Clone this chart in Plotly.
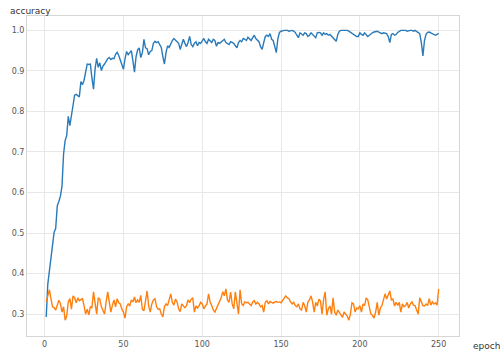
import plotly.graph_objects as go

# Training curves: accuracy per epoch for two runs
epochs = list(range(1, 251))

acc_blue = [
    0.293, 0.374, 0.406, 0.438, 0.470, 0.502, 0.511, 0.567, 0.578, 0.591,
    0.615, 0.695, 0.728, 0.741, 0.788, 0.765, 0.790, 0.815, 0.840, 0.842,
    0.838, 0.836, 0.874, 0.866, 0.877, 0.895, 0.917, 0.916, 0.917, 0.882,
    0.855, 0.905, 0.931, 0.909, 0.920, 0.901, 0.912, 0.917, 0.925, 0.930,
    0.933, 0.928, 0.931, 0.930, 0.941, 0.946, 0.938, 0.925, 0.912, 0.904,
    0.930, 0.948, 0.940, 0.945, 0.950, 0.925, 0.897, 0.935, 0.952, 0.957,
    0.933, 0.945, 0.978, 0.957, 0.955, 0.940, 0.948, 0.950, 0.968, 0.973,
    0.970, 0.972, 0.963, 0.958, 0.935, 0.917, 0.945, 0.962, 0.958, 0.968,
    0.975, 0.980, 0.975, 0.970, 0.968, 0.953, 0.965, 0.978, 0.968, 0.960,
    0.970, 0.985, 0.965, 0.960, 0.968, 0.972, 0.962, 0.970, 0.968, 0.975,
    0.980, 0.972, 0.968, 0.978, 0.975, 0.970, 0.978, 0.975, 0.961, 0.970,
    0.968, 0.972, 0.975, 0.978, 0.970, 0.968, 0.965, 0.972, 0.970, 0.968,
    0.962, 0.957, 0.970, 0.975, 0.972, 0.980, 0.978, 0.975, 0.983, 0.978,
    0.975, 0.982, 0.988, 0.980, 0.975, 0.972, 0.960, 0.953, 0.970, 0.985,
    0.988, 0.985, 0.992, 0.978, 0.975, 0.962, 0.945, 0.980, 0.995, 0.998,
    1.000, 1.000, 1.000, 1.000, 0.998, 1.000, 1.000, 0.998, 0.995, 0.988,
    0.982, 0.994, 0.992, 0.988, 0.994, 0.992, 0.985, 0.988, 0.994, 0.990,
    0.985, 0.982, 0.994, 0.995, 0.994, 0.988, 0.994, 0.990, 0.992, 0.988,
    0.990, 0.985, 0.982, 0.978, 0.973, 0.990, 0.998, 1.000, 1.000, 1.000,
    1.000, 1.000, 0.998, 0.995, 0.994, 0.990, 0.988, 0.985, 0.985, 0.994,
    0.990, 0.988, 0.994, 0.990, 0.985, 0.988, 0.992, 0.994, 0.996, 0.998,
    0.998, 0.996, 0.994, 0.992, 0.994, 0.993, 0.992, 0.985, 0.970, 0.990,
    0.992, 0.988, 0.990, 0.995, 0.998, 1.000, 1.000, 1.000, 1.000, 0.998,
    1.000, 1.000, 1.000, 0.998, 1.000, 0.998, 0.996, 0.992, 0.970, 0.937,
    0.975, 0.990, 0.995, 0.996, 0.994, 0.992, 0.990, 0.988, 0.990, 0.993,
]

acc_orange = [
    0.330, 0.345, 0.360, 0.338, 0.318, 0.316, 0.310, 0.322, 0.334, 0.326,
    0.305, 0.318, 0.285, 0.295, 0.330, 0.338, 0.312, 0.345, 0.340, 0.328,
    0.340, 0.333, 0.336, 0.338, 0.320, 0.300, 0.312, 0.298, 0.318, 0.316,
    0.355, 0.320, 0.300, 0.340, 0.337, 0.318, 0.310, 0.300, 0.330, 0.355,
    0.330, 0.305, 0.322, 0.335, 0.318, 0.338, 0.328, 0.325, 0.312, 0.305,
    0.290, 0.318, 0.325, 0.320, 0.335, 0.330, 0.342, 0.328, 0.335, 0.329,
    0.346, 0.312, 0.308, 0.332, 0.357, 0.320, 0.305, 0.325, 0.335, 0.338,
    0.318, 0.312, 0.313, 0.300, 0.293, 0.318, 0.325, 0.321, 0.338, 0.350,
    0.329, 0.322, 0.337, 0.330, 0.313, 0.306, 0.325, 0.321, 0.316, 0.321,
    0.335, 0.328, 0.337, 0.340, 0.305, 0.320, 0.315, 0.321, 0.329, 0.325,
    0.313, 0.320, 0.325, 0.350, 0.330, 0.321, 0.310, 0.305, 0.313, 0.320,
    0.330, 0.340, 0.355, 0.345, 0.362, 0.335, 0.329, 0.354, 0.325, 0.313,
    0.355, 0.320, 0.300, 0.360, 0.325, 0.321, 0.330, 0.328, 0.329, 0.325,
    0.321, 0.330, 0.333, 0.325, 0.329, 0.325, 0.318, 0.321, 0.305, 0.329,
    0.333, 0.325, 0.331, 0.329, 0.327, 0.330, 0.331, 0.329, 0.330, 0.328,
    0.333, 0.340, 0.345, 0.340, 0.338, 0.330, 0.325, 0.329, 0.321, 0.318,
    0.325, 0.313, 0.310, 0.329, 0.320, 0.305, 0.329, 0.335, 0.345, 0.330,
    0.305, 0.329, 0.320, 0.337, 0.332, 0.300, 0.337, 0.355, 0.297, 0.313,
    0.320, 0.300, 0.340, 0.305, 0.297, 0.310, 0.305, 0.298, 0.292, 0.305,
    0.300, 0.295, 0.285, 0.300, 0.328, 0.325, 0.305, 0.315, 0.313, 0.321,
    0.305, 0.325, 0.321, 0.340, 0.335, 0.313, 0.300, 0.297, 0.290, 0.305,
    0.329, 0.297, 0.315, 0.321, 0.340, 0.350, 0.337, 0.345, 0.357, 0.335,
    0.337, 0.320, 0.329, 0.321, 0.329, 0.305, 0.325, 0.318, 0.321, 0.329,
    0.315, 0.325, 0.330, 0.322, 0.321, 0.310, 0.300, 0.340, 0.330, 0.321,
    0.320, 0.325, 0.321, 0.338, 0.322, 0.330, 0.325, 0.328, 0.322, 0.362,
]

x_ticks = [0, 50, 100, 150, 200, 250]
y_ticks = [0.3, 0.4, 0.5, 0.6, 0.7, 0.8, 0.9, 1.0]

GRID = "#e8e8e8"
FRAME = "#d6d6d6"
TICK_FONT = dict(family="DejaVu Sans", size=8, color="#555555")

fig = go.Figure()
fig.add_trace(go.Scatter(x=epochs, y=acc_blue, mode="lines",
                         line=dict(color="#2a7ab9", width=1.4), showlegend=False))
fig.add_trace(go.Scatter(x=epochs, y=acc_orange, mode="lines",
                         line=dict(color="#ff7f0e", width=1.4), showlegend=False))

fig.update_layout(
    width=500, height=361,
    margin=dict(l=27, r=41, t=16, b=18),
    paper_bgcolor="white", plot_bgcolor="white",
    showlegend=False,
    xaxis=dict(range=[-11.2, 262.9], tickvals=x_ticks,
               showgrid=True, gridcolor=GRID, gridwidth=1,
               zeroline=False, showline=True, linecolor=FRAME, linewidth=1,
               mirror=True, ticks="", tickfont=TICK_FONT),
    yaxis=dict(range=[0.2459, 1.0355], tickvals=y_ticks, tickformat=".1f",
               showgrid=True, gridcolor=GRID, gridwidth=1,
               zeroline=False, showline=True, linecolor=FRAME, linewidth=1,
               mirror=True, ticks="", tickfont=TICK_FONT),
    annotations=[
        dict(text="accuracy", xref="paper", yref="paper", x=-0.044, y=1.016,
             xanchor="left", yanchor="middle", showarrow=False,
             font=dict(family="DejaVu Sans", size=9, color="#333333")),
        dict(text="epoch", xref="paper", yref="paper", x=1.028, y=-0.031,
             xanchor="left", yanchor="middle", showarrow=False,
             font=dict(family="DejaVu Sans", size=9, color="#333333")),
    ],
)

fig.write_html("out.html")
